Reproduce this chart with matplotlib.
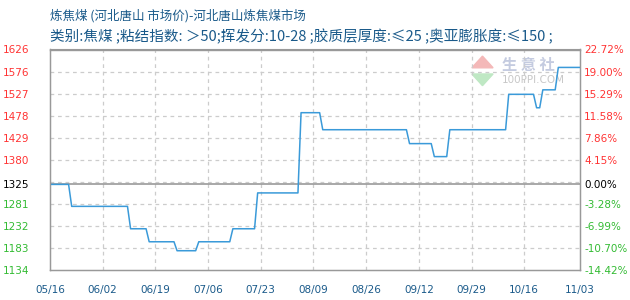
import matplotlib
matplotlib.use("Agg")
import matplotlib.pyplot as plt
import pandas as pd
from matplotlib.patches import Polygon

plt.rcParams['font.family'] = ['Noto Sans CJK SC', 'DejaVu Sans']

# Price change points (each level given by its first and last day)
dates = ["2020-05-16", "2020-05-22", "2020-05-23", "2020-06-10", "2020-06-11",
         "2020-06-16", "2020-06-17", "2020-06-25", "2020-06-26", "2020-07-02",
         "2020-07-03", "2020-07-13", "2020-07-14", "2020-07-21", "2020-07-22",
         "2020-08-04", "2020-08-05", "2020-08-11", "2020-08-12", "2020-09-08",
         "2020-09-09", "2020-09-16", "2020-09-17", "2020-09-21", "2020-09-22",
         "2020-10-10", "2020-10-11", "2020-10-19", "2020-10-20", "2020-10-21",
         "2020-10-22", "2020-10-26", "2020-10-27", "2020-11-03"]
prices = [1325, 1325, 1276, 1276, 1226,
          1226, 1197, 1197, 1177, 1177,
          1197, 1197, 1226, 1226, 1306,
          1306, 1485, 1485, 1447, 1447,
          1416, 1416, 1387, 1387, 1447,
          1447, 1526, 1526, 1496, 1496,
          1536, 1536, 1586, 1586]

base_price = 1325
grid_values = [1134, 1183.2, 1232.4, 1281.6, 1330.8, 1380, 1429.2, 1478.4, 1527.6, 1576.8, 1626]
left_ticks = [1134, 1183.2, 1232.4, 1281.6, 1325, 1380, 1429.2, 1478.4, 1527.6, 1576.8, 1626]
left_labels = ["1134", "1183", "1232", "1281", "1325", "1380", "1429", "1478", "1527", "1576", "1626"]
right_labels = ["-14.42%", "-10.70%", "-6.99%", "-3.28%", "0.00%", "4.15%", "7.86%",
                "11.58%", "15.29%", "19.00%", "22.72%"]
x_ticks = ["2020-05-16", "2020-06-02", "2020-06-19", "2020-07-06", "2020-07-23",
           "2020-08-09", "2020-08-26", "2020-09-12", "2020-09-29", "2020-10-16", "2020-11-03"]

title = "炼焦煤 (河北唐山 市场价)-河北唐山炼焦煤市场"
subtitle = "类别:焦煤 ;粘结指数: ＞50;挥发分:10-28 ;胶质层厚度:≤25 ;奥亚膨胀度:≤150 ;"

RED = "#ff3333"
GREEN = "#33bb33"
BLUE_TXT = "#1a5a8a"
LINE = "#3a9ad9"

fig = plt.figure(figsize=(6.3, 3.0), dpi=100)
ax = fig.add_axes([50 / 630, 1 - 270 / 300, 530 / 630, (270 - 49.5) / 300])

x = pd.to_datetime(dates)
xt = pd.to_datetime(x_ticks)

ax.set_xlim(xt[0], xt[-1])
ax.set_ylim(grid_values[0], grid_values[-1])

# dashed grid and solid base-price line
for g in grid_values[1:-1]:
    ax.axhline(g, color="#cccccc", lw=0.9, ls=(0, (3, 3)), zorder=1)
for d in xt[1:-1]:
    ax.axvline(d, color="#cccccc", lw=0.9, ls=(0, (3, 3)), zorder=1)
ax.axhline(base_price, color="#999999", lw=1.2, zorder=2)

ax.plot(x, prices, color=LINE, lw=1.1, zorder=3)

for s in ax.spines.values():
    s.set_color("#999999")
    s.set_linewidth(1.0)

ax.set_xticks(xt)
ax.set_xticklabels([d.strftime("%m/%d") for d in xt], color=BLUE_TXT, fontsize=7.5,
                   family="DejaVu Sans")
ax.tick_params(axis="x", length=0, pad=11)

ax.set_yticks(left_ticks)
ax.set_yticklabels(left_labels, fontsize=7.5, family="DejaVu Sans")
ax.tick_params(axis="y", length=0, pad=15)

ax2 = ax.twinx()
ax2.set_ylim(ax.get_ylim())
ax2.set_yticks(left_ticks)
ax2.set_yticklabels(right_labels, fontsize=7.5, family="DejaVu Sans")
ax2.tick_params(axis="y", length=0, pad=3)
for s in ax2.spines.values():
    s.set_color("#999999")

for lab_l, lab_r, v in zip(ax.get_yticklabels(), ax2.get_yticklabels(), left_ticks):
    if v > base_price:
        c = RED
    elif v < base_price:
        c = GREEN
    else:
        c = "black"
    lab_l.set_color(c)
    lab_r.set_color(c)

# watermark logo
wm = ax.transAxes
ax.add_patch(Polygon([[0.796, 0.917], [0.836, 0.917], [0.816, 0.970]],
                     closed=True, transform=wm, color="#f4b8b8", zorder=0))
ax.add_patch(Polygon([[0.796, 0.889], [0.836, 0.889], [0.816, 0.836]],
                     closed=True, transform=wm, color="#bfe8c4", zorder=0))
ax.text(0.852, 0.93, "生 意 社", transform=wm, fontsize=11, color="#c4cbe0",
        fontweight="bold", va="center", ha="left", zorder=0)
ax.text(0.852, 0.862, "100PPI.COM", transform=wm, fontsize=7.5, color="#c8c8c8",
        va="center", ha="left", family="DejaVu Sans", zorder=0)

fig.text(50 / 630, 1 - 16 / 300, title, color=BLUE_TXT, fontsize=9, va="center", ha="left")
fig.text(50 / 630, 1 - 36.5 / 300, subtitle, color=BLUE_TXT, fontsize=10.5, va="center", ha="left",
         family=["Noto Sans CJK SC", "DejaVu Sans"])

fig.savefig("out.png", dpi=100)
